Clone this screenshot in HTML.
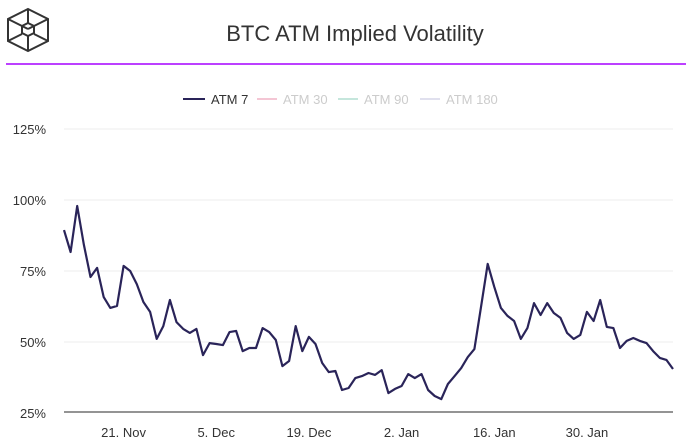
<!DOCTYPE html>
<html><head><meta charset="utf-8"><style>
body{margin:0;background:#fff;font-family:"Liberation Sans",sans-serif;}
svg{display:block}
</style></head><body>
<svg id="chart" width="686" height="443">
  <g fill="none" stroke="#333" stroke-width="2">
    <polygon points="28,9 48,19 48,41 28,51 8,41 8,19"/>
    <line x1="8" y1="19" x2="28" y2="29"/><line x1="48" y1="19" x2="28" y2="29"/>
    <line x1="8" y1="41" x2="22" y2="34"/><line x1="48" y1="41" x2="34" y2="34"/>
    <line x1="28" y1="9" x2="28" y2="23"/><line x1="28" y1="51" x2="28" y2="36"/>
    <polygon points="28,23 34,26 34,33 28,36 22,33 22,26"/>
  </g>
  <text x="355" y="41" text-anchor="middle" font-size="22" fill="#333">BTC ATM Implied Volatility</text>
  <line x1="6" y1="64" x2="686" y2="64" stroke="#a600ff" stroke-width="1.5"/>
  <g font-size="13">
    <g><line x1="183" y1="99" x2="205" y2="99" stroke="#2a2459" stroke-width="2"/><text x="211" y="104" fill="#333">ATM 7</text></g>
    <g><line x1="257" y1="99" x2="277" y2="99" stroke="#f4c6d4" stroke-width="2"/><text x="283" y="104" fill="#ccc">ATM 30</text></g>
    <g><line x1="338" y1="99" x2="358" y2="99" stroke="#c5e6dc" stroke-width="2"/><text x="364" y="104" fill="#ccc">ATM 90</text></g>
    <g><line x1="420" y1="99" x2="440" y2="99" stroke="#e0e0ee" stroke-width="2"/><text x="446" y="104" fill="#ccc">ATM 180</text></g>
  </g>
  <g id="grid"></g><g id="axes"></g><g id="series"></g>
</svg>
<script>
const yTicks=[25,50,75,100,125];
const xLabels=["21. Nov","5. Dec","19. Dec","2. Jan","16. Jan","30. Jan"];
const xLabelDays=[9,23,37,51,65,79];
const atm7=[89.4,81.7,97.9,84.2,72.9,76.1,65.8,62.0,62.7,76.8,75.0,70.4,64.1,60.6,51.1,55.6,64.8,57.0,54.6,53.2,54.6,45.4,49.6,49.3,48.9,53.5,53.9,46.8,47.9,47.9,54.9,53.5,50.7,41.5,43.3,55.6,46.8,51.8,49.3,42.6,39.4,39.8,33.1,33.8,37.3,38.0,39.1,38.4,40.1,32.0,33.5,34.5,38.7,37.3,38.7,33.1,31.0,29.9,35.2,38.0,40.8,44.7,47.5,62.3,77.5,69.4,62.0,59.2,57.4,51.1,54.9,63.7,59.5,63.7,60.2,58.5,53.2,51.1,52.5,60.6,57.4,64.8,55.3,54.9,47.9,50.4,51.4,50.4,49.6,46.8,44.4,43.7,40.5];
const NS="http://www.w3.org/2000/svg";
const x0=64,x1=673,yTop=129,yBot=413;
const xs=i=>x0+i*(x1-x0)/(atm7.length-1);
const ys=v=>yBot-(v-25)*(yBot-yTop)/100;
function mk(t,a,p){const e=document.createElementNS(NS,t);for(const k in a)e.setAttribute(k,a[k]);p.appendChild(e);return e;}
const grid=document.getElementById('grid'),axes=document.getElementById('axes'),ser=document.getElementById('series');
yTicks.forEach(v=>{
  if(v>25){const l=mk('line',{x1:x0,x2:673,y1:ys(v),y2:ys(v),stroke:'#eee','stroke-width':1},grid);
  
  }
  const t=mk('text',{x:46,y:ys(v)+5,'text-anchor':'end','font-size':13,fill:'#333'},axes);
  t.textContent=v+'%';
  
  
});
const ax=mk('line',{x1:x0,x2:673,y1:412,y2:412,stroke:'#555','stroke-width':1.2},axes);


xLabels.forEach((s,i)=>{
  const t=mk('text',{x:xs(xLabelDays[i]),y:437,'text-anchor':'middle','font-size':13,fill:'#333'},axes);
  t.textContent=s;
  
  
});
const p=mk('polyline',{points:atm7.map((v,i)=>xs(i).toFixed(1)+','+ys(v).toFixed(1)).join(' '),fill:'none',stroke:'#2a2459','stroke-width':2.2,'stroke-linejoin':'round'},ser);


</script>
</body></html>
